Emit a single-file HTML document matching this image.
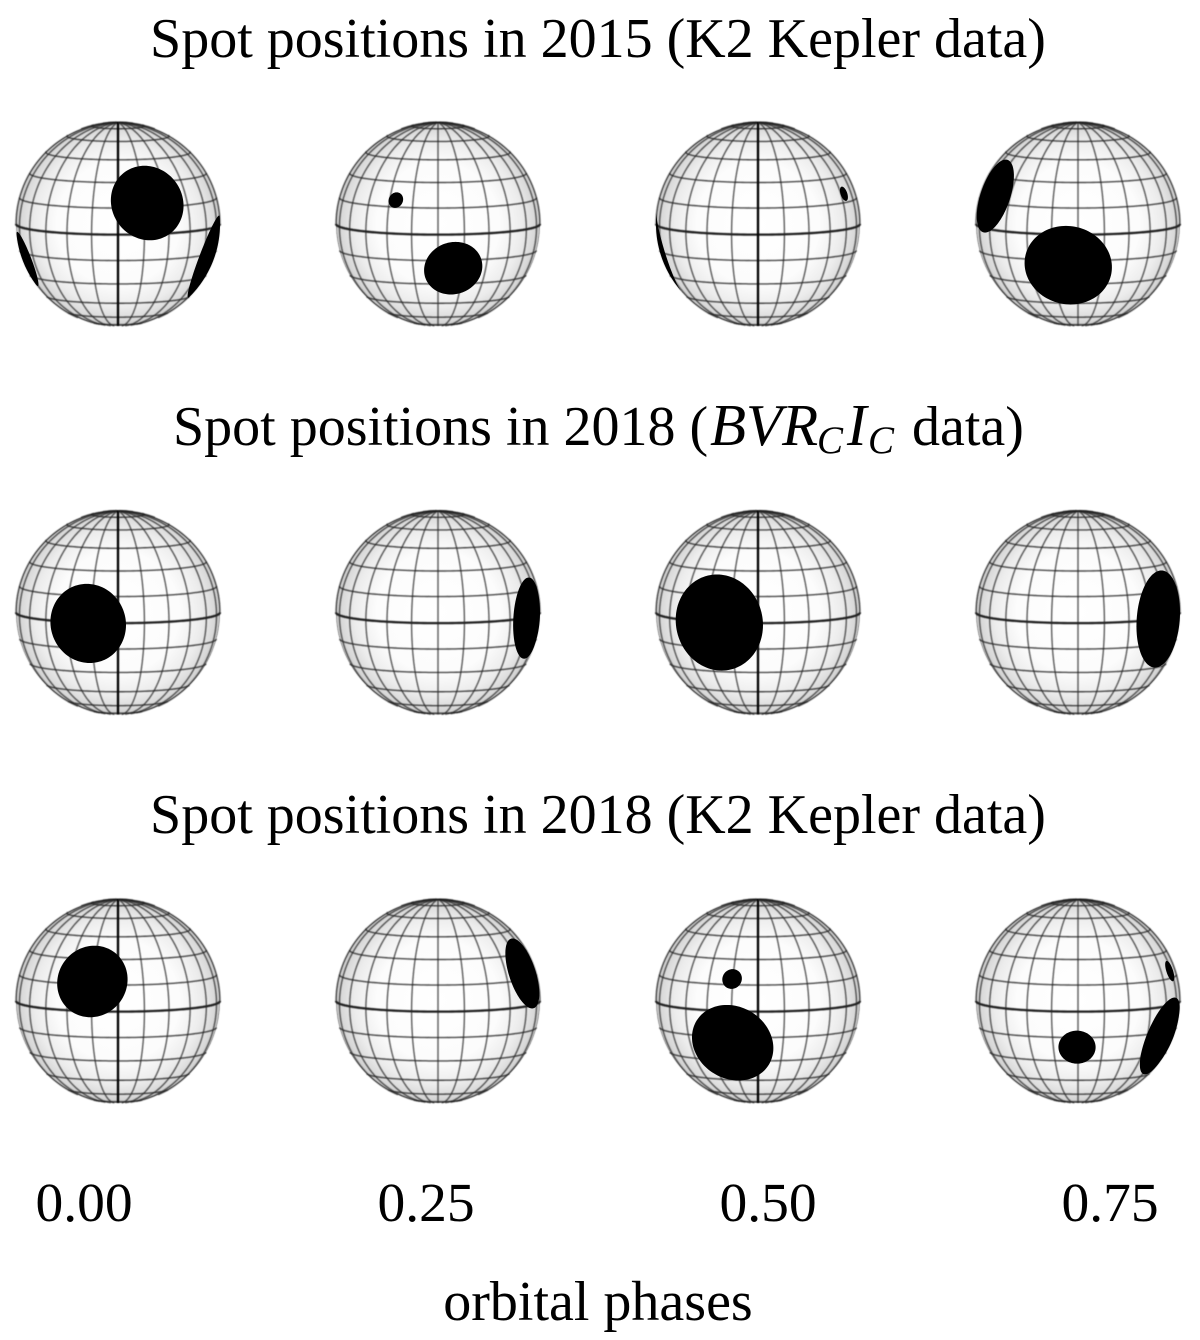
<!DOCTYPE html>
<html lang="en">
<head>
<meta charset="utf-8">
<title>Spot positions</title>
<style>
html,body{margin:0;padding:0;background:#fff;}
svg{display:block;}
text{font-family:"Liberation Serif",serif;fill:#000;}
</style>
</head>
<body>
<svg id="chart" xmlns="http://www.w3.org/2000/svg" width="1200" height="1340" viewBox="0 0 1200 1340">
<defs>
<radialGradient id="shade" cx="50%" cy="50%" r="50%">
<stop offset="0" stop-color="#ffffff"/>
<stop offset="0.6" stop-color="#fcfcfc"/>
<stop offset="0.82" stop-color="#ececec"/>
<stop offset="0.95" stop-color="#d8d8d8"/>
<stop offset="1" stop-color="#c8c8c8"/>
</radialGradient>
<filter id="soft" x="-5%" y="-5%" width="110%" height="110%"><feGaussianBlur stdDeviation="0.45"/></filter>
</defs>
<text x="598" y="57" font-size="56" text-anchor="middle">Spot positions in 2015 (K2 Kepler data)</text>
<text x="173" y="445" font-size="56">Spot positions in 2018 (<tspan x="710" font-style="italic" font-size="59">BVR</tspan><tspan x="817" font-style="italic" font-size="39" dy="8">C</tspan><tspan x="847" font-style="italic" font-size="59" dy="-8">I</tspan><tspan x="868" font-style="italic" font-size="39" dy="8">C</tspan><tspan x="912" dy="-8">data)</tspan></text>
<text x="598" y="833" font-size="56" text-anchor="middle">Spot positions in 2018 (K2 Kepler data)</text>
<g id="spheres"></g>
<g id="phase-labels"></g>
<text x="598" y="1320" font-size="56" text-anchor="middle">orbital phases</text>
</svg>
<script>
// Data: rows (epochs), orbital phases and spots as [longitude, latitude, angular radius] in degrees
const phases = ["0.00", "0.25", "0.50", "0.75"];
const phaseValues = [0, 90, 180, 270];
const epochs = ["2015-k2", "2018-bvrcic", "2018-k2"];
const spots2015 = [
  [[19, 18.5, 22], [82, -20, 25.5], [-80, -20, 16.5]],
  [[-26, 19, 4.5], [9.6, -21, 16.8]],
  [[64, 20, 4.2], [-96, -18, 25]],
  [[-68, 19.5, 22], [-6.5, -20.6, 25.5]]
];
const spots2018Bvr = [
  [[-18.5, -1, 23]],
  [[71, -1.5, 23.5]],
  [[-25.5, -1, 28.3]],
  [[63.5, -1.5, 28.5]]
];
const spots2018K2 = [
  [[-16.4, 17.6, 21]],
  [[69.5, 19, 21]],
  [[-15.6, 18.3, 5.7], [-17, -21, 24.5]],
  [[-0.6, -21.4, 10.5], [69, -20, 24], [73, 19, 6]]
];
const latitudes = [-75, -60, -45, -30, -15, 0, 15, 30, 45, 60, 75];
const longitudes = [-165, -150, -135, -120, -105, -90, -75, -60, -45, -30, -15, 0, 15, 30, 45, 60, 75, 90, 105, 120, 135, 150, 165, 180];

const allSpots = [spots2015, spots2018Bvr, spots2018K2];
const SVGNS = "http://www.w3.org/2000/svg";
const TILT = 6 * Math.PI / 180;
const RADIUS = 102;
const colX = i => 118 + 320 * i;
const rowY = i => 224 + 388.5 * i;
const labelX = i => 84 + 342 * i;
const rad = d => d * Math.PI / 180;

// unit vector in view coordinates: x right, y up, z toward viewer
function project(lon, lat) {
  const cl = Math.cos(rad(lat)), sl = Math.sin(rad(lat));
  const a = cl * Math.sin(rad(lon)), f = cl * Math.cos(rad(lon));
  return { x: a, y: sl * Math.cos(TILT) - f * Math.sin(TILT), z: sl * Math.sin(TILT) + f * Math.cos(TILT) };
}
function curve(points, cx, cy) {
  let d = "", pen = false;
  points.forEach(p => {
    if (p.z < 0) { pen = false; return; }
    d += (pen ? "L" : "M") + (cx + RADIUS * p.x).toFixed(2) + " " + (cy - RADIUS * p.y).toFixed(2);
    pen = true;
  });
  return d;
}
function latLine(lat, cx, cy) {
  const pts = [];
  for (let l = -180; l <= 180; l += 2) pts.push(project(l, lat));
  return curve(pts, cx, cy);
}
function lonLine(lon, cx, cy) {
  const pts = [];
  for (let l = -90; l <= 90; l += 2) pts.push(project(lon, l));
  return curve(pts, cx, cy);
}
function capPath(spot, cx, cy) {
  const c = project(spot[0], spot[1]);
  const cv = [c.x, c.y, c.z];
  let u = [c.z, 0, -c.x];
  let n = Math.hypot(u[0], u[1], u[2]);
  if (n < 1e-6) { u = [1, 0, 0]; n = 1; }
  u = u.map(v => v / n);
  const w = [cv[1] * u[2] - cv[2] * u[1], cv[2] * u[0] - cv[0] * u[2], cv[0] * u[1] - cv[1] * u[0]];
  const r = rad(spot[2]);
  let d = "", any = false;
  for (let k = 0; k < 120; k++) {
    const t = k / 120 * 2 * Math.PI;
    const v = [0, 1, 2].map(i => cv[i] * Math.cos(r) + Math.sin(r) * (u[i] * Math.cos(t) + w[i] * Math.sin(t)));
    let x = v[0], y = v[1];
    if (v[2] < 0) { const h = Math.hypot(x, y) || 1; x /= h; y /= h; } else { any = true; }
    d += (k ? "L" : "M") + (cx + RADIUS * x).toFixed(2) + " " + (cy - RADIUS * y).toFixed(2);
  }
  return any ? d + "Z" : "";
}
function make(tag, parent, attrs) {
  const el = document.createElementNS(SVGNS, tag);
  Object.keys(attrs).forEach(k => el.setAttribute(k, attrs[k]));
  parent.appendChild(el);
  return el;
}

const root = document.getElementById("spheres");
epochs.forEach((epoch, r) => {
  phases.forEach((phase, c) => {
    const cx = colX(c), cy = rowY(r);
    const g = make("g", root, {});
    
    
    const disc = make("circle", g, { cx: cx, cy: cy, r: RADIUS, fill: "url(#shade)" });
    
    
    const grid = make("g", g, { fill: "none", stroke: "#222", filter: "url(#soft)" });
    
    
    latitudes.forEach(lat => {
      const line = make("path", grid, { d: latLine(lat, cx, cy), "stroke-width": lat === 0 ? 2.3 : 1.4, "stroke-opacity": lat === 0 ? 1 : 0.8 });
      
      
    });
    longitudes.forEach(lon => {
      const prime = ((lon + phaseValues[c] + 360) % 180) === 0 && (phaseValues[c] % 180 === 0);
      const line = make("path", grid, { d: lonLine(lon, cx, cy), "stroke-width": prime ? 2.3 : 1.35, "stroke-opacity": prime ? 1 : 0.75, stroke: prime ? "#000" : "#222" });
      
      
    });
    const limb = make("circle", grid, { cx: cx, cy: cy, r: RADIUS - 0.3, "stroke-width": 0.8, "stroke-opacity": 0.3 });
    
    
    allSpots[r][c].forEach(spot => {
      const s = make("path", g, { d: capPath(spot, cx, cy), fill: "#000" });
      
      
    });
  });
});

const labels = document.getElementById("phase-labels");
phases.forEach((phase, i) => {
  const t = make("text", labels, { x: labelX(i), y: 1221, "font-size": 55.5, "text-anchor": "middle" });
  
  
  t.textContent = phase;
});
</script>
</body>
</html>
